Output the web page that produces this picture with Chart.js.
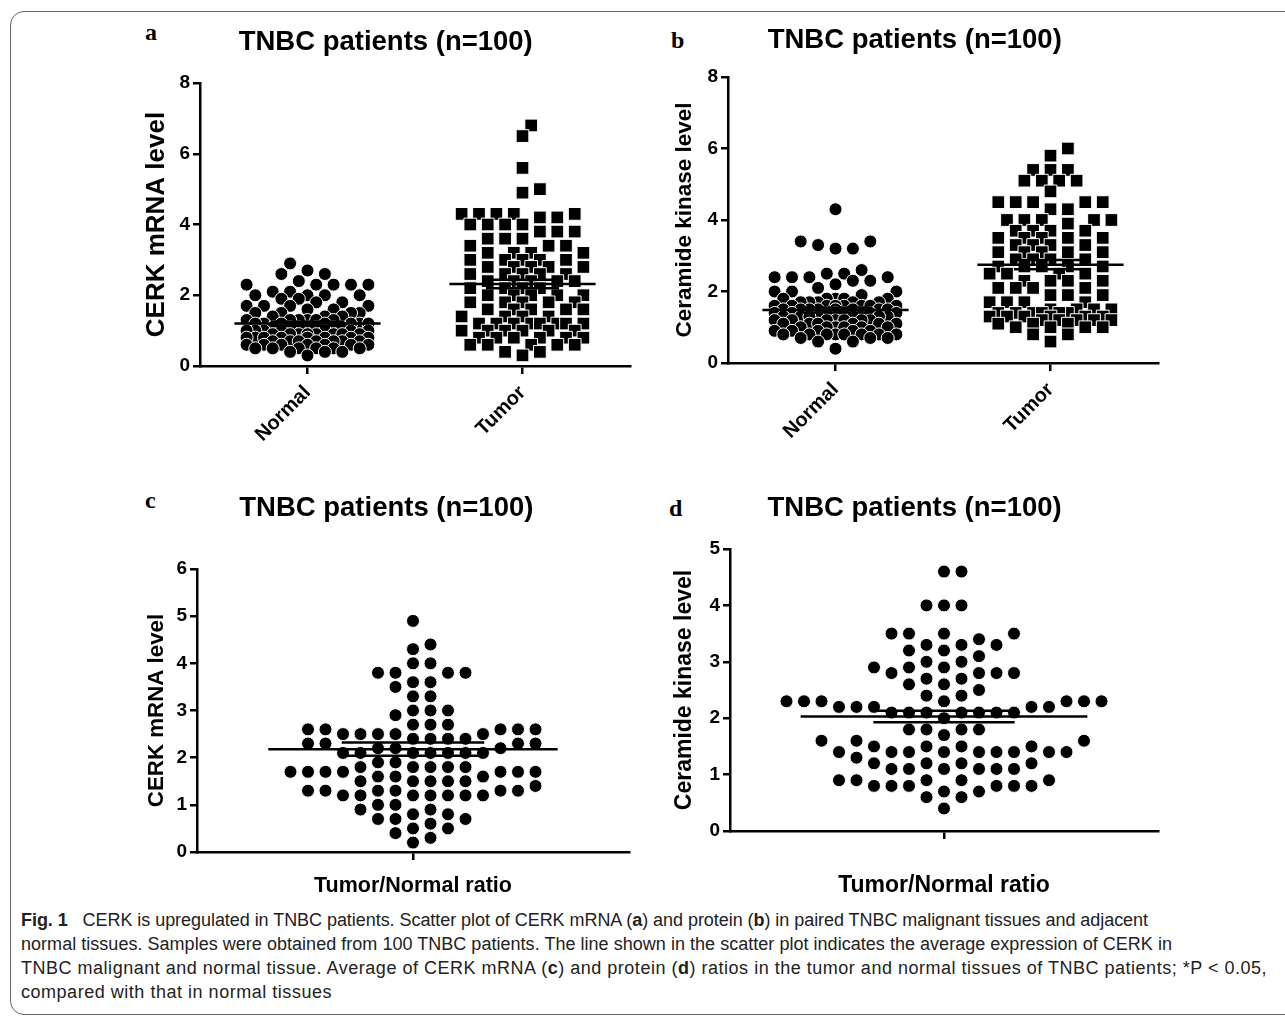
<!DOCTYPE html>
<html>
<head>
<meta charset="utf-8">
<script src="https://cdn.jsdelivr.net/npm/chart.js@4.4.1/dist/chart.umd.min.js"></script>
<style>
  body { margin: 0; background: #fff; width: 1285px; height: 1019px; position: relative; overflow: hidden;
         font-family: "Liberation Sans", Arial, sans-serif; }
  .frame { position: absolute; left: 10px; top: 11px; width: 1300px; height: 1002px;
           border: 1.5px solid #666; border-radius: 14px; }
  canvas { position: absolute; }
  .tag { position: absolute; font: bold 24px "Liberation Serif", "DejaVu Serif", serif; line-height: 1; }
  .caption { position: absolute; left: 21px; top: 908px; font-size: 18px; line-height: 24px; white-space: nowrap; color: #222; }
</style>
</head>
<body>
<div class="frame"></div>
<div class="tag" style="left:145px;top:20px">a</div>
<div class="tag" style="left:671px;top:28px">b</div>
<div class="tag" style="left:145px;top:488px">c</div>
<div class="tag" style="left:669px;top:496px">d</div>

<canvas id="chartA" width="520" height="460" style="left:130px;top:20px"></canvas>
<canvas id="chartB" width="514" height="460" style="left:660px;top:20px"></canvas>
<canvas id="chartC" width="514" height="413" style="left:130px;top:486px"></canvas>
<canvas id="chartD" width="546" height="413" style="left:660px;top:486px"></canvas>

<div class="caption">
  <div><span><b>Fig. 1</b>&nbsp;&nbsp; CERK is upregulated in TNBC patients. Scatter plot of CERK mRNA (<b>a</b>) and protein (<b>b</b>) in paired TNBC malignant tissues and adjacent</span></div>
  <div><span>normal tissues. Samples were obtained from 100 TNBC patients. The line shown in the scatter plot indicates the average expression of CERK in</span></div>
  <div><span>TNBC malignant and normal tissue. Average of CERK mRNA (<b>c</b>) and protein (<b>d</b>) ratios in the tumor and normal tissues of TNBC patients; *P &lt; 0.05,</span></div>
  <div><span>compared with that in normal tissues</span></div>
</div>

<script>
// categories
const groups = ["Normal", "Tumor"];

// (a) CERK mRNA level
const mrnaNormal = [2.9, 2.7, 2.6, 2.6, 2.4, 2.3, 2.3, 2.3, 2.3, 2.3, 2.1, 2.1, 2.0, 2.0, 2.0, 2.0, 1.9, 1.9, 1.8, 1.8,
  1.7, 1.7, 1.7, 1.7, 1.6, 1.6, 1.5, 1.5, 1.5, 1.5, 1.4, 1.4, 1.4, 1.3, 1.3, 1.3, 1.3, 1.3, 1.3, 1.2,
  1.2, 1.2, 1.2, 1.2, 1.2, 1.2, 1.1, 1.1, 1.1, 1.1, 1.1, 1.1, 1.1, 1.0, 1.0, 1.0, 1.0, 1.0, 1.0, 1.0,
  0.9, 0.9, 0.9, 0.9, 0.9, 0.9, 0.9, 0.9, 0.8, 0.8, 0.8, 0.8, 0.8, 0.8, 0.8, 0.8, 0.7, 0.7, 0.7, 0.7,
  0.7, 0.7, 0.7, 0.6, 0.6, 0.6, 0.6, 0.6, 0.6, 0.6, 0.5, 0.5, 0.5, 0.5, 0.5, 0.5, 0.4, 0.4, 0.4, 0.3];
const mrnaTumor = [6.8, 6.5, 5.6, 5.0, 4.9, 4.3, 4.3, 4.3, 4.3, 4.3, 4.2, 4.2, 4.0, 4.0, 4.0, 4.0, 3.8, 3.8, 3.8, 3.6,
  3.6, 3.6, 3.4, 3.4, 3.4, 3.2, 3.2, 3.2, 3.2, 3.0, 3.0, 3.0, 3.0, 3.0, 2.8, 2.8, 2.8, 2.8, 2.8, 2.6,
  2.6, 2.6, 2.6, 2.6, 2.4, 2.4, 2.4, 2.4, 2.4, 2.2, 2.2, 2.2, 2.2, 2.0, 2.0, 2.0, 2.0, 2.0, 1.8, 1.8,
  1.8, 1.8, 1.8, 1.6, 1.6, 1.6, 1.6, 1.6, 1.4, 1.4, 1.4, 1.4, 1.2, 1.2, 1.2, 1.2, 1.2, 1.2, 1.2, 1.2,
  1.0, 1.0, 1.0, 1.0, 1.0, 1.0, 0.8, 0.8, 0.8, 0.8, 0.8, 0.8, 0.6, 0.6, 0.6, 0.6, 0.6, 0.4, 0.4, 0.3];
const mrnaMean = [1.2, 2.32];
const mrnaSem = [0.06, 0.12];

// (b) Ceramide kinase level
const kinaseNormal = [4.3, 3.4, 3.4, 3.3, 3.2, 3.2, 2.6, 2.5, 2.5, 2.4, 2.4, 2.4, 2.4, 2.3, 2.3, 2.2, 2.1, 2.0, 2.0, 2.0,
  1.9, 1.8, 1.8, 1.8, 1.8, 1.8, 1.7, 1.7, 1.7, 1.7, 1.7, 1.6, 1.6, 1.6, 1.6, 1.6, 1.6, 1.6, 1.6, 1.5,
  1.5, 1.5, 1.5, 1.5, 1.5, 1.5, 1.5, 1.4, 1.4, 1.4, 1.4, 1.4, 1.4, 1.4, 1.4, 1.3, 1.3, 1.3, 1.3, 1.3,
  1.3, 1.3, 1.2, 1.2, 1.2, 1.2, 1.2, 1.2, 1.2, 1.1, 1.1, 1.1, 1.1, 1.1, 1.1, 1.0, 1.0, 1.0, 1.0, 1.0,
  1.0, 0.9, 0.9, 0.9, 0.9, 0.9, 0.8, 0.8, 0.8, 0.8, 0.8, 0.8, 0.8, 0.8, 0.7, 0.7, 0.7, 0.6, 0.6, 0.4];
const kinaseTumor = [6.0, 5.8, 5.4, 5.4, 5.4, 5.1, 5.1, 5.1, 5.1, 4.8, 4.5, 4.5, 4.5, 4.5, 4.5, 4.3, 4.3, 4.0, 4.0, 4.0,
  4.0, 4.0, 3.9, 3.7, 3.7, 3.7, 3.7, 3.5, 3.5, 3.5, 3.5, 3.5, 3.3, 3.3, 3.3, 3.3, 3.1, 3.1, 3.1, 3.1,
  3.1, 2.9, 2.9, 2.9, 2.9, 2.7, 2.7, 2.7, 2.7, 2.7, 2.5, 2.5, 2.5, 2.5, 2.3, 2.3, 2.3, 2.3, 2.1, 2.1,
  2.1, 2.1, 1.9, 1.9, 1.9, 1.7, 1.7, 1.7, 1.7, 1.5, 1.5, 1.5, 1.5, 1.4, 1.4, 1.4, 1.4, 1.4, 1.4, 1.3,
  1.3, 1.3, 1.3, 1.3, 1.3, 1.2, 1.2, 1.2, 1.2, 1.2, 1.1, 1.1, 1.1, 1.0, 1.0, 1.0, 1.0, 0.8, 0.8, 0.6];
const kinaseMean = [1.48, 2.75];
const kinaseSem = [0.07, 0.13];

// (c) Tumor/Normal ratio, CERK mRNA
const ratioMrna = [4.9, 4.4, 4.3, 4.0, 4.0, 3.8, 3.8, 3.8, 3.8, 3.6, 3.6, 3.5, 3.3, 3.3, 3.0, 3.0, 3.0, 2.9, 2.7, 2.7,
  2.7, 2.6, 2.6, 2.6, 2.6, 2.6, 2.5, 2.5, 2.5, 2.5, 2.5, 2.4, 2.4, 2.4, 2.4, 2.3, 2.3, 2.3, 2.3, 2.2,
  2.2, 2.2, 2.1, 2.1, 2.1, 2.1, 2.1, 2.1, 2.1, 1.9, 1.9, 1.8, 1.8, 1.8, 1.8, 1.8, 1.7, 1.7, 1.7, 1.7,
  1.7, 1.7, 1.7, 1.6, 1.6, 1.6, 1.5, 1.5, 1.5, 1.5, 1.5, 1.4, 1.3, 1.3, 1.3, 1.3, 1.3, 1.3, 1.2, 1.2,
  1.2, 1.2, 1.2, 1.2, 1.2, 1.0, 1.0, 0.9, 0.9, 0.8, 0.8, 0.7, 0.7, 0.7, 0.6, 0.5, 0.5, 0.4, 0.3, 0.2];
const ratioMrnaMean = 2.18;
const ratioMrnaSem = 0.14;

// (d) Tumor/Normal ratio, ceramide kinase
const ratioKinase = [4.6, 4.6, 4.0, 4.0, 4.0, 3.5, 3.5, 3.5, 3.5, 3.4, 3.3, 3.3, 3.3, 3.2, 3.2, 3.1, 3.0, 3.0, 2.9, 2.9,
  2.9, 2.8, 2.8, 2.8, 2.8, 2.7, 2.7, 2.6, 2.6, 2.5, 2.4, 2.4, 2.3, 2.3, 2.3, 2.3, 2.3, 2.3, 2.3, 2.2,
  2.2, 2.2, 2.2, 2.2, 2.1, 2.1, 2.1, 2.1, 2.1, 2.1, 2.1, 2.0, 1.8, 1.8, 1.8, 1.8, 1.7, 1.6, 1.6, 1.6,
  1.5, 1.5, 1.5, 1.5, 1.4, 1.4, 1.4, 1.4, 1.4, 1.4, 1.4, 1.4, 1.4, 1.3, 1.2, 1.2, 1.2, 1.2, 1.1, 1.1,
  1.1, 1.1, 1.1, 1.1, 0.9, 0.9, 0.9, 0.9, 0.9, 0.8, 0.8, 0.8, 0.8, 0.8, 0.8, 0.7, 0.7, 0.6, 0.6, 0.4];
const ratioKinaseMean = 2.03;
const ratioKinaseSem = 0.1;

// caption line widths in the figure (px)
const captionWidths = [1127, 1151, 1246, 311];

const FONT = "'Liberation Sans', Arial, sans-serif";
Chart.defaults.color = "#000";
Chart.defaults.font.family = FONT;

// GraphPad-like column scatter: sorted by value, each point takes the nearest free column
function swarm(values, toPx, step, minDist, maxCol) {
  const order = values.map((v, i) => i).sort((a, b) => values[a] - values[b]);
  const placed = [];
  const cols = new Array(values.length);
  order.forEach(i => {
    const py = toPx(values[i]);
    let best = 0, bestScore = -1;
    for (let k = 0; k <= 2 * maxCol; k++) {
      const c = k === 0 ? 0 : (k % 2 ? (k + 1) / 2 : -k / 2);
      let dmin = Infinity;
      placed.forEach(p => {
        const d = Math.hypot((p.col - c) * step, p.py - py);
        if (d < dmin) dmin = d;
      });
      if (dmin >= minDist) { best = c; break; }
      if (dmin > bestScore + 0.01) { bestScore = dmin; best = c; }
    }
    cols[i] = best;
    placed.push({ col: best, py });
  });
  return cols;
}

function pointSet(values, center, style, radius, swarmOpts) {
  return {
    data: values.map(v => ({ x: center, y: v })),
    values, center, swarmOpts,
    pointStyle: style, pointRadius: radius, pointHoverRadius: radius,
    backgroundColor: "#000", borderColor: "#fff", pointBorderWidth: 1,
    showLine: false, order: 2
  };
}

function hLine(y, center, half) {
  return {
    data: [{ x: center - half, y }, { x: center + half, y }],
    showLine: true, pointRadius: 0, borderColor: "#000", borderWidth: 2.5, order: 0
  };
}

function makePanel(id, p) {
  const ctx = document.getElementById(id).getContext("2d");
  return new Chart(ctx, {
    type: "scatter",
    data: { datasets: p.datasets },
    options: {
      responsive: false,
      animation: false,
      events: [],
      layout: { padding: { left: p.padLeft, right: p.padRight, top: 0, bottom: 0 } },
      plugins: {
        legend: { display: false },
        tooltip: { enabled: false },
        title: {
          display: true, text: "TNBC patients (n=100)",
          font: { size: 27.5, weight: "bold", lineHeight: 1.2 },
          padding: { top: p.titleTop, bottom: p.titleBottom }
        }
      },
      scales: {
        x: {
          type: "linear", min: p.xMin, max: p.xMax,
          afterFit: s => { s.height = p.xHeight; },
          afterBuildTicks: s => { s.ticks = p.xTicks.map(v => ({ value: v })); },
          grid: { drawOnChartArea: false, drawTicks: true, tickLength: 8, lineWidth: 2.5, color: "#000" },
          border: { display: true, width: 2.5, color: "#000" },
          ticks: {
            autoSkip: false, minRotation: p.rot, maxRotation: p.rot, padding: 7,
            font: { size: 20, weight: "bold" },
            callback: v => p.xLabels[v] || ""
          },
          title: p.xTitle
            ? { display: true, text: p.xTitle, font: { size: p.xTitleSize, weight: "bold", lineHeight: 1.2 }, padding: 0 }
            : { display: false }
        },
        y: {
          min: 0, max: p.yMax,
          afterFit: s => { s.width = p.yWidth; },
          grid: { drawOnChartArea: false, drawTicks: true, tickLength: 7, lineWidth: 2.5, color: "#000" },
          border: { display: true, width: 2.5, color: "#000" },
          ticks: { stepSize: p.yStep, padding: 3, font: { size: 19, weight: "bold" } },
          title: { display: true, text: p.yTitle, font: { size: p.yTitleSize, weight: "bold", lineHeight: 1.2 }, padding: 0 }
        }
      }
    }
  });
}

// place the points in columns using the chart's own scales, then redraw
function layoutSwarm(chart) {
  const xs = chart.scales.x, ys = chart.scales.y;
  const unit = xs.getPixelForValue(1) - xs.getPixelForValue(0);
  chart.data.datasets.forEach(ds => {
    if (!ds.swarmOpts) return;
    const o = ds.swarmOpts;
    const cols = swarm(ds.values, v => ys.getPixelForValue(v), o.step, o.minDist, o.maxCol);
    ds.data = ds.values.map((v, i) => ({ x: ds.center + cols[i] * o.step / unit, y: v }));
  });
  chart.update("none");
}

const packed = { step: 8.7, minDist: 11.5, maxCol: 7 };

const chartA = makePanel("chartA", {
  padLeft: 11.4, padRight: 20, yWidth: 58.6, titleTop: 5.5, titleBottom: 24.5, xHeight: 114,
  xMin: -0.5, xMax: 1.5, xTicks: [0, 1], xLabels: groups, rot: 45,
  yMax: 8, yStep: 2, yTitle: "CERK mRNA level", yTitleSize: 26,
  datasets: [
    hLine(mrnaMean[0], 0, 0.34), hLine(mrnaMean[0] + mrnaSem[0], 0, 0.17), hLine(mrnaMean[0] - mrnaSem[0], 0, 0.17),
    hLine(mrnaMean[1], 1, 0.34), hLine(mrnaMean[1] + mrnaSem[1], 1, 0.17), hLine(mrnaMean[1] - mrnaSem[1], 1, 0.17),
    pointSet(mrnaNormal, 0, "circle", 6.5, packed),
    pointSet(mrnaTumor, 1, "rect", 9, packed)
  ]
});

const chartB = makePanel("chartB", {
  padLeft: 11.5, padRight: 16, yWidth: 56.5, titleTop: 3.5, titleBottom: 20.5, xHeight: 117,
  xMin: -0.5, xMax: 1.5, xTicks: [0, 1], xLabels: groups, rot: 45,
  yMax: 8, yStep: 2, yTitle: "Ceramide kinase level", yTitleSize: 22.5,
  datasets: [
    hLine(kinaseMean[0], 0, 0.34), hLine(kinaseMean[0] + kinaseSem[0], 0, 0.17), hLine(kinaseMean[0] - kinaseSem[0], 0, 0.17),
    hLine(kinaseMean[1], 1, 0.34), hLine(kinaseMean[1] + kinaseSem[1], 1, 0.17), hLine(kinaseMean[1] - kinaseSem[1], 1, 0.17),
    pointSet(kinaseNormal, 0, "circle", 6.5, packed),
    pointSet(kinaseTumor, 1, "rect", 9, packed)
  ]
});

const chartC = makePanel("chartC", {
  padLeft: 13.6, padRight: 15, yWidth: 53.4, titleTop: 5.5, titleBottom: 44.5, xHeight: 47,
  xMin: -1, xMax: 1, xTicks: [0], xLabels: [], rot: 0, xTitle: "Tumor/Normal ratio", xTitleSize: 21.5,
  yMax: 6, yStep: 1, yTitle: "CERK mRNA level", yTitleSize: 22.3,
  datasets: [
    hLine(ratioMrnaMean, 0, 0.67), hLine(ratioMrnaMean + ratioMrnaSem, 0, 0.33), hLine(ratioMrnaMean - ratioMrnaSem, 0, 0.33),
    pointSet(ratioMrna, 0, "circle", 6.5, { step: 17.5, minDist: 12.5, maxCol: 14 })
  ]
});

const chartD = makePanel("chartD", {
  padLeft: 11.2, padRight: 48, yWidth: 58.8, titleTop: 5.5, titleBottom: 24.5, xHeight: 68,
  xMin: -1, xMax: 1, xTicks: [0], xLabels: [], rot: 0, xTitle: "Tumor/Normal ratio", xTitleSize: 23,
  yMax: 5, yStep: 1, yTitle: "Ceramide kinase level", yTitleSize: 23,
  datasets: [
    hLine(ratioKinaseMean, 0, 0.67), hLine(ratioKinaseMean + ratioKinaseSem, 0, 0.33), hLine(ratioKinaseMean - ratioKinaseSem, 0, 0.33),
    pointSet(ratioKinase, 0, "circle", 6.5, { step: 17.5, minDist: 12, maxCol: 14 })
  ]
});

[chartA, chartB, chartC, chartD].forEach(layoutSwarm);

// stretch each caption line to the width it has in the figure
document.querySelectorAll(".caption span").forEach((el, i) => {
  const w = el.getBoundingClientRect().width;
  const n = el.textContent.length;
  el.style.letterSpacing = ((captionWidths[i] - w) / n).toFixed(3) + "px";
});
</script>
</body>
</html>
